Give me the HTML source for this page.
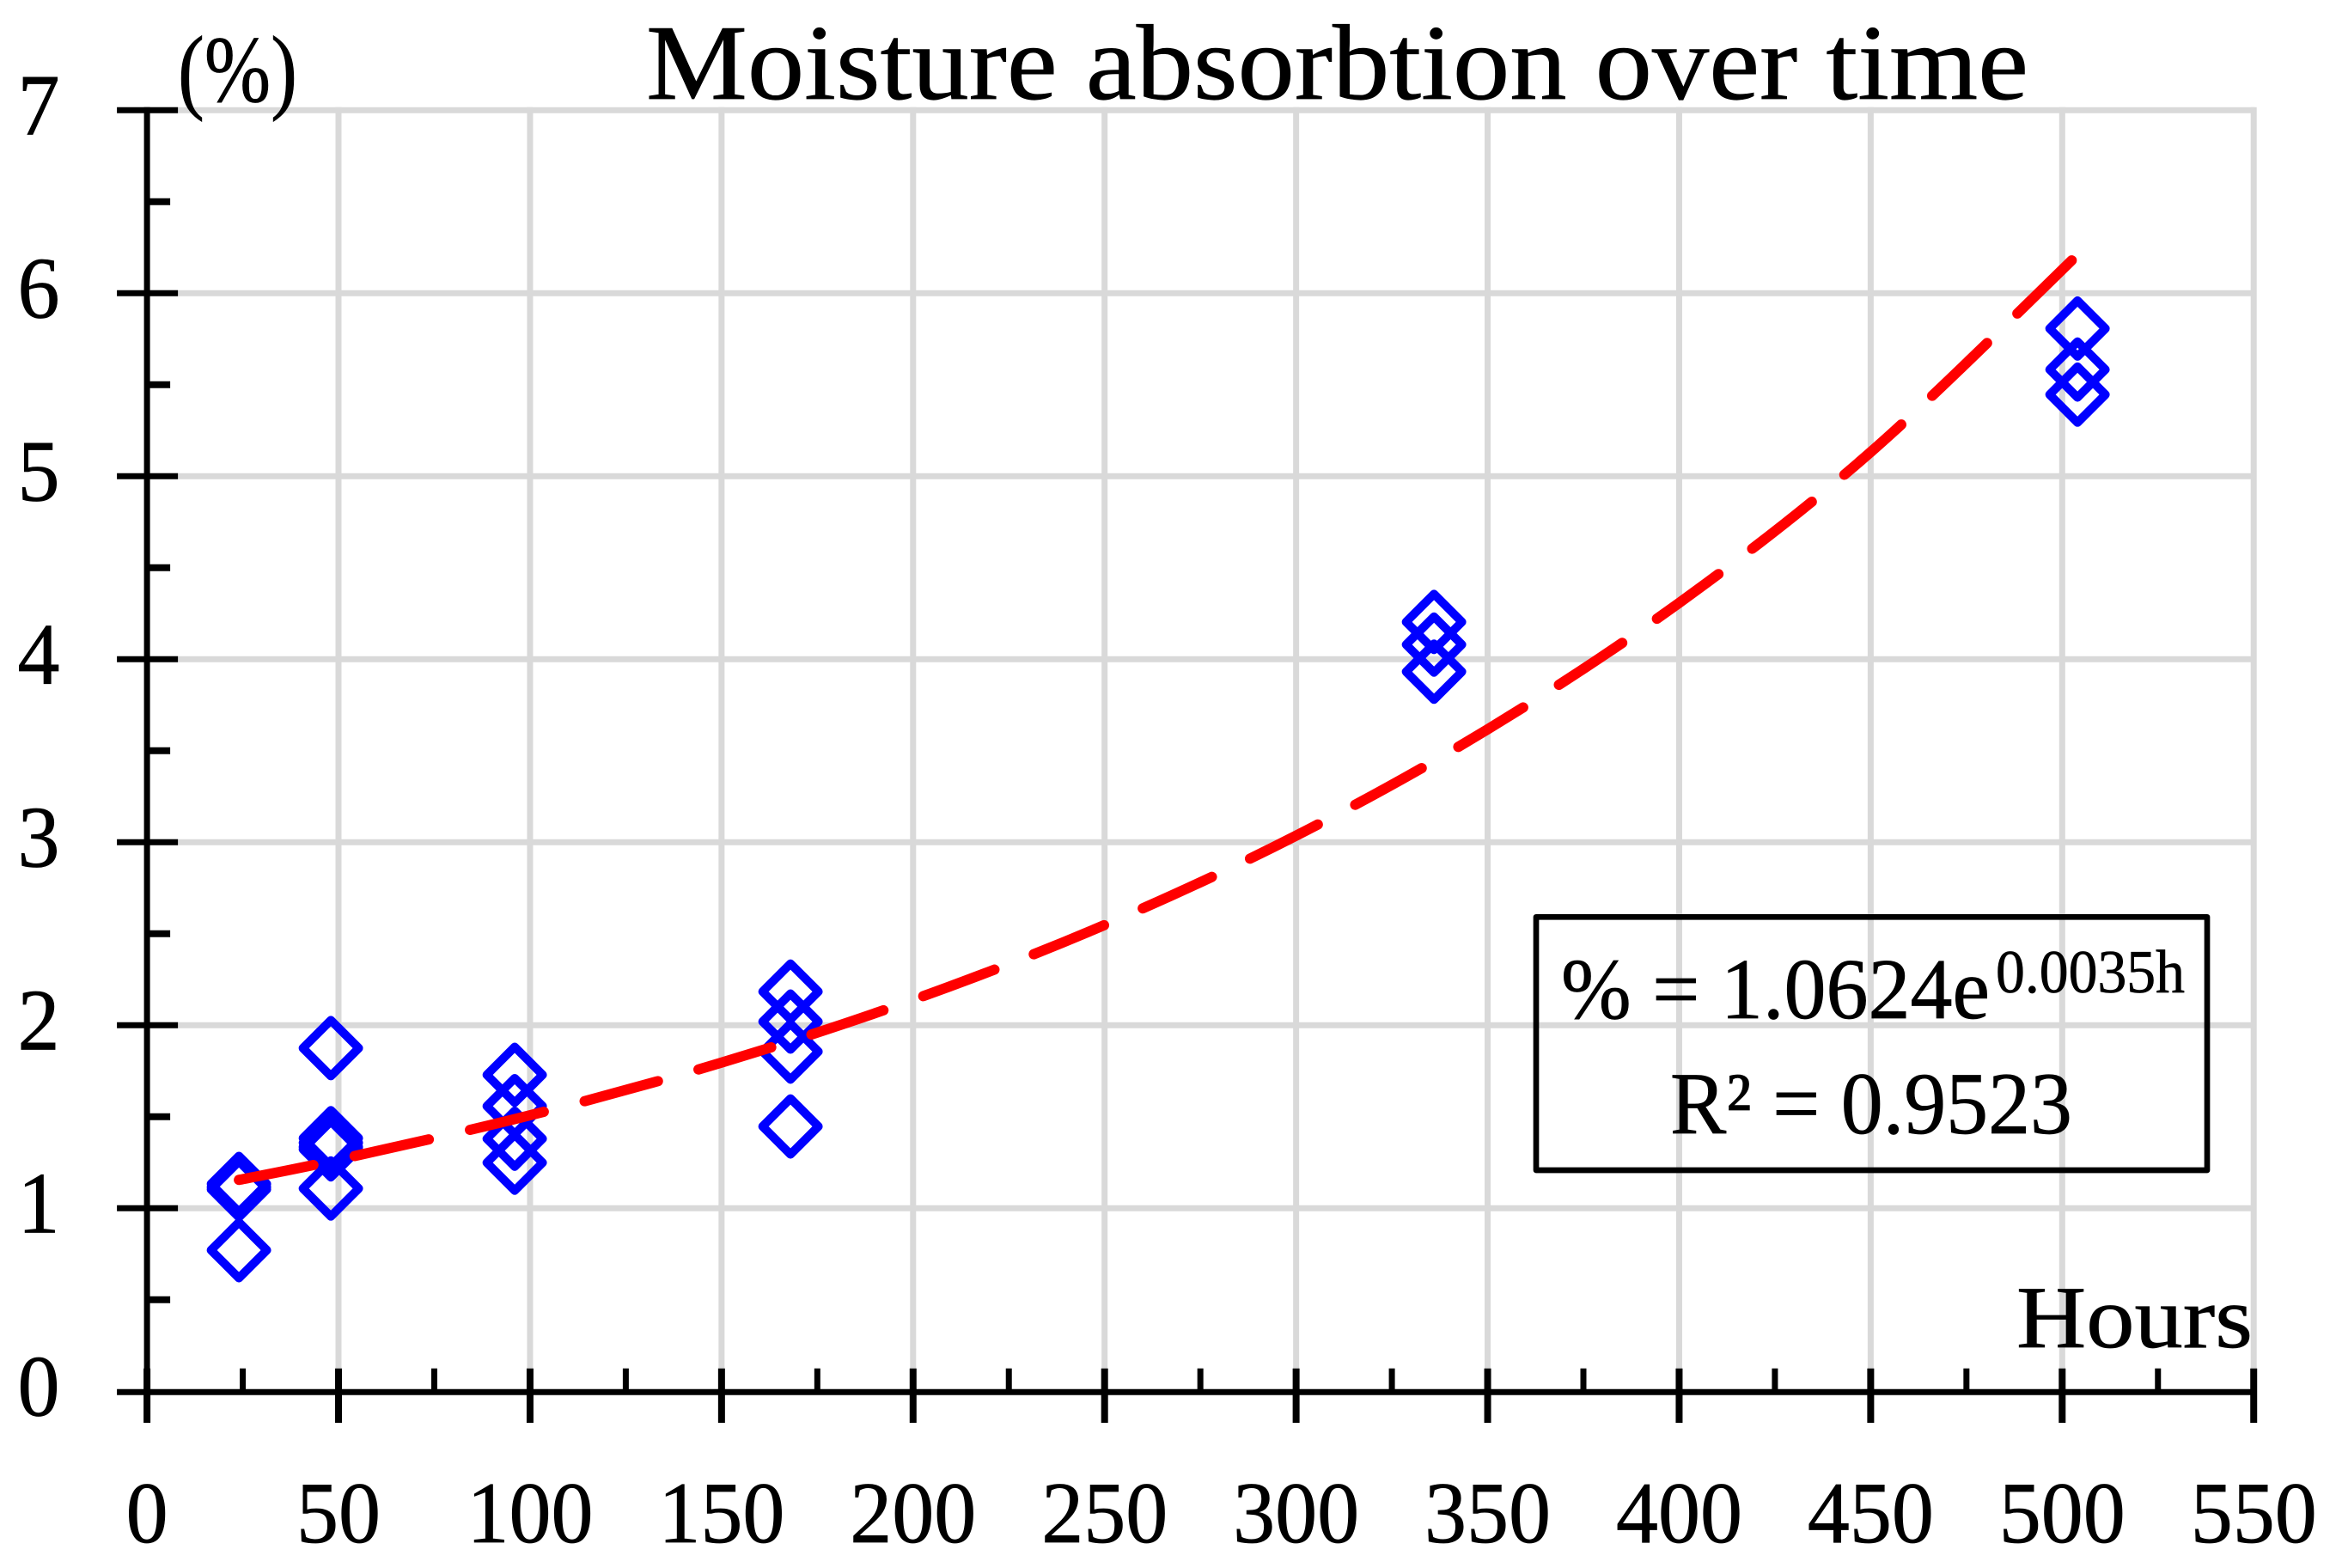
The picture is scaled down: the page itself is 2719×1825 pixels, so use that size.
<!DOCTYPE html>
<html lang="en">
<head>
<meta charset="utf-8">
<title>Moisture absorbtion over time</title>
<style>
html,body{margin:0;padding:0;background:#fff;}
svg{display:block;}
text{font-family:"Liberation Serif",serif;fill:#000;stroke:#000;stroke-width:0.7;}
</style>
</head>
<body>
<svg id="chart" xmlns="http://www.w3.org/2000/svg" width="2719" height="1825" viewBox="0 0 2719 1825">
  <rect x="0" y="0" width="2719" height="1825" fill="#ffffff"/>
  <g id="grid"></g>
  <g id="axes"></g>
  <g id="tickLabels"></g>
  <g id="points"></g>
  <path id="trend" fill="none" stroke="#ff0000" stroke-width="12" stroke-linecap="round" stroke-linejoin="round" stroke-dasharray="88.4 49.2"/>
  <text x="752" y="115" font-size="125" textLength="1609" lengthAdjust="spacingAndGlyphs">Moisture absorbtion over time</text>
  <text x="207" y="118" font-size="110" textLength="139" lengthAdjust="spacingAndGlyphs">(%)</text>
  <text x="2347" y="1568" font-size="103" textLength="275" lengthAdjust="spacingAndGlyphs">Hours</text>
  <rect x="1788" y="1067.3" width="781" height="294.7" fill="none" stroke="#000000" stroke-width="6.7" stroke-linejoin="round"/>
  <text x="1817" y="1185" font-size="101" textLength="499" lengthAdjust="spacingAndGlyphs">% = 1.0624e</text>
  <text x="2323" y="1155" font-size="71" textLength="220" lengthAdjust="spacingAndGlyphs">0.0035h</text>
  <text x="1944" y="1319" font-size="103" textLength="468" lengthAdjust="spacingAndGlyphs">R² = 0.9523</text>
</svg>
<script>
const xTickLabels = [0, 50, 100, 150, 200, 250, 300, 350, 400, 450, 500, 550];
const xMinorTicks = [25, 75, 125, 175, 225, 275, 325, 375, 425, 475, 525];
const yTickLabels = [0, 1, 2, 3, 4, 5, 6, 7];
const yMinorTicks = [0.5, 1.5, 2.5, 3.5, 4.5, 5.5, 6.5];
const pointHours = [24, 24, 24, 24, 48, 48, 48, 48, 48, 48, 96, 96, 96, 96, 168, 168, 168, 168, 336, 336, 336, 504, 504, 504];
const pointMoisture = [0.771, 1.133, 1.115, 1.103, 1.875, 1.383, 1.358, 1.335, 1.322, 1.108, 1.729, 1.558, 1.38, 1.249, 2.184, 2.02, 1.856, 1.447, 4.204, 4.08, 3.932, 5.807, 5.583, 5.446];
const trendHours = [24, 50, 100, 150, 200, 250, 300, 350, 400, 450, 504];
const trendMoisture = [1.155, 1.266, 1.508, 1.796, 2.139, 2.548, 3.036, 3.617, 4.308, 5.132, 6.21];

const NS = 'http://www.w3.org/2000/svg';
function xPos(h) { return 171.1 + h * 4.4584; }
function yPos(v) { return 1619.3 - v * 213; }

function line(parent, x1, y1, x2, y2, color, width) {
  const el = document.createElementNS(NS, 'line');
  el.setAttribute('x1', x1);
  el.setAttribute('y1', y1);
  el.setAttribute('x2', x2);
  el.setAttribute('y2', y2);
  el.setAttribute('stroke', color);
  el.setAttribute('stroke-width', width);
  parent.appendChild(el);
  return el;
}

function label(parent, x, y, content) {
  const el = document.createElementNS(NS, 'text');
  el.setAttribute('x', x);
  el.setAttribute('y', y);
  el.setAttribute('font-size', '102');
  el.setAttribute('text-anchor', 'middle');
  el.setAttribute('textLength', content.length * 49);
  el.setAttribute('lengthAdjust', 'spacingAndGlyphs');
  el.textContent = content;
  parent.appendChild(el);
  return el;
}

const gridGroup = document.getElementById('grid');
const axesGroup = document.getElementById('axes');
const labelGroup = document.getElementById('tickLabels');
const pointGroup = document.getElementById('points');
const xMax = xTickLabels[xTickLabels.length - 1];
const yMax = yTickLabels[yTickLabels.length - 1];
const axisY = yPos(0) + 1;

xTickLabels.forEach(function (t) {
  if (t > 0) {
    const g = line(gridGroup, xPos(t), yPos(yMax) - 3.5, xPos(t), axisY, '#d9d9d9', 7);
    
    
  }
});
yTickLabels.forEach(function (t) {
  if (t > 0) {
    const g = line(gridGroup, xPos(0), yPos(t), xPos(xMax) + 1, yPos(t), '#d9d9d9', 7);
    
    
  }
});

const yAxisLine = line(axesGroup, xPos(0), yPos(yMax) - 3.5, xPos(0), axisY, '#000', 7);


const xAxisLine = line(axesGroup, xPos(0) - 35, axisY, xPos(xMax) + 3, axisY, '#000', 7);



xTickLabels.forEach(function (t) {
  const tick = line(axesGroup, xPos(t), axisY - 27.6, xPos(t), axisY + 35.7, '#000', 8);
  
  
  const txt = label(labelGroup, xPos(t), 1795, String(t));
  
  
});
xMinorTicks.forEach(function (t) {
  const tick = line(axesGroup, xPos(t), axisY - 27.6, xPos(t), axisY, '#000', 7);
  
  
});
yTickLabels.forEach(function (t) {
  if (t > 0) {
    const tick = line(axesGroup, xPos(0) - 35, yPos(t), xPos(0) + 36, yPos(t), '#000', 7);
    
    
  }
  const txt = label(labelGroup, 45, yPos(t) + 28, String(t));
  
  
});
yMinorTicks.forEach(function (t) {
  const tick = line(axesGroup, xPos(0), yPos(t), xPos(0) + 27, yPos(t), '#000', 8);
  
  
});

pointHours.forEach(function (h, i) {
  const cx = xPos(h);
  const cy = yPos(pointMoisture[i]);
  const d = 32.5;
  const el = document.createElementNS(NS, 'polygon');
  el.setAttribute('points', cx + ',' + (cy - d) + ' ' + (cx + d) + ',' + cy + ' ' + cx + ',' + (cy + d) + ' ' + (cx - d) + ',' + cy);
  el.setAttribute('fill', 'none');
  el.setAttribute('stroke', '#0000ff');
  el.setAttribute('stroke-width', '10');
  el.setAttribute('stroke-linejoin', 'round');
  
  
  pointGroup.appendChild(el);
});

const px = trendHours.map(xPos);
const py = trendMoisture.map(yPos);
let trendPath = 'M' + px[0] + ' ' + py[0];
for (let i = 0; i < px.length - 1; i++) {
  const p0 = Math.max(i - 1, 0);
  const p3 = Math.min(i + 2, px.length - 1);
  const c1x = px[i] + (px[i + 1] - px[p0]) / 6;
  const c1y = py[i] + (py[i + 1] - py[p0]) / 6;
  const c2x = px[i + 1] - (px[p3] - px[i]) / 6;
  const c2y = py[i + 1] - (py[p3] - py[i]) / 6;
  trendPath += ' C' + c1x + ' ' + c1y + ' ' + c2x + ' ' + c2y + ' ' + px[i + 1] + ' ' + py[i + 1];
}
document.getElementById('trend').setAttribute('d', trendPath);
</script>
</body>
</html>
